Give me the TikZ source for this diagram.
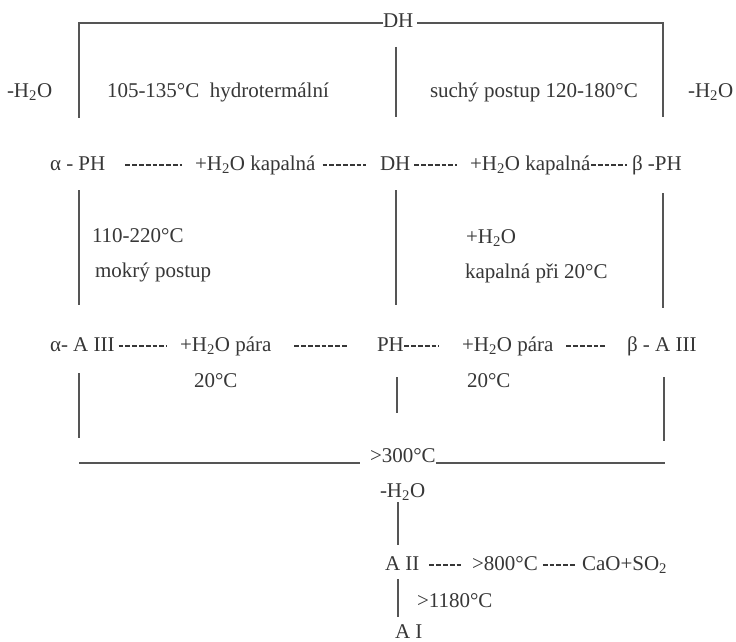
\documentclass[tikz,border=0pt]{standalone}
\usepackage{fontspec}
\setmainfont{Liberation Serif}
\definecolor{tcol}{RGB}{55,55,55}
\definecolor{lcol}{RGB}{85,85,85}
\begin{document}
\begin{tikzpicture}[x=1pt,y=-1pt,
  txt/.style={inner sep=0pt, outer sep=0pt, anchor=base west, text=tcol, font=\fontsize{21}{25}\selectfont},
  ln/.style={draw=lcol, line width=1.3pt},
  hy/.style={draw=tcol, line width=1.3pt, dash pattern=on 4.8pt off 2.0pt}]
\useasboundingbox (0,0) rectangle (736,642);
\fill[white] (0,0) rectangle (736,642);
% top row
\node[txt] (dhtop) at (383,28) {DH};
\node[txt] (wl) at (7,97) {-H\textsubscript{2}O};
\node[txt] (hyd) at (107,97) {105-135°C\ \ hydrotermální};
\node[txt] (such) at (430,97) {suchý postup 120-180°C};
\node[txt] (wr) at (688,97) {-H\textsubscript{2}O};
% row 2
\node[txt] (aph) at (50,170) {α - PH};
\node[txt] (kap1) at (195,170) {+H\textsubscript{2}O kapalná};
\node[txt] (dhm) at (380,170) {DH};
\node[txt] (kap2) at (470,170) {+H\textsubscript{2}O kapalná};
\node[txt] (bph) at (632,170) {β -PH};
\node[txt] (t110) at (92,242) {110-220°C};
\node[txt] (mok) at (95,277) {mokrý postup};
\node[txt] (h2o) at (466,243) {+H\textsubscript{2}O};
\node[txt] (kap20) at (465,278) {kapalná při 20°C};
% row 3
\node[txt] (aa3) at (50,351) {α- A III};
\node[txt] (par1) at (180,351) {+H\textsubscript{2}O pára};
\node[txt] (ph) at (377,351) {PH};
\node[txt] (par2) at (462,351) {+H\textsubscript{2}O pára};
\node[txt] (ba3) at (627,351) {β - A III};
\node[txt] (t20a) at (194,387) {20°C};
\node[txt] (t20b) at (467,387) {20°C};
% bottom
\node[txt] (t300) at (370,462) {>300°C};
\node[txt] (wb) at (380,497) {-H\textsubscript{2}O};
\node[txt] (a2) at (385,570) {A II};
\node[txt] (t800) at (472,570) {>800°C};
\node[txt] (cao) at (582,570) {CaO+SO\textsubscript{2}};
\node[txt] (t1180) at (417,607) {>1180°C};
\node[txt] (a1) at (395,638) {A I};
% coordinates
\coordinate (tl) at (79,118);
\coordinate (tr) at (663,117);
\coordinate (tc1) at (396,47);
\coordinate (tc2) at (396,117);
\coordinate (ml1) at (79,190);  \coordinate (ml2) at (79,305);
\coordinate (mc1) at (396,190); \coordinate (mc2) at (396,305);
\coordinate (mr1) at (663,193); \coordinate (mr2) at (663,308);
\coordinate (bl1) at (79,373);  \coordinate (bl2) at (79,438);
\coordinate (bc1) at (397,377); \coordinate (bc2) at (397,413);
\coordinate (br1) at (664,377); \coordinate (br2) at (664,441);
\coordinate (hl) at (79,463);
\coordinate (hr) at (665,463);
\coordinate (v1) at (398,502); \coordinate (v2) at (398,545);
\coordinate (v3) at (398,579); \coordinate (v4) at (398,617);
% solid lines
\draw[ln] ([yshift=5pt]dhtop.base west) -| (tl);
\draw[ln] ([xshift=4pt,yshift=5pt]dhtop.base east) -| (tr);
\draw[ln] (tc1) -- (tc2);
\draw[ln] (ml1) -- (ml2);
\draw[ln] (mc1) -- (mc2);
\draw[ln] (mr1) -- (mr2);
\draw[ln] (bl1) -- (bl2);
\draw[ln] (bc1) -- (bc2);
\draw[ln] (br1) -- (br2);
\draw[ln] (hl) -- ([xshift=-10pt,yshift=-1pt]t300.base west);
\draw[ln] ([yshift=-1pt]t300.base east) -- (hr);
\draw[ln] (v1) -- (v2);
\draw[ln] (v3) -- (v4);
% dashed connectors
\draw[hy] ([xshift=20pt,yshift=5pt]aph.base east) -- ([xshift=-13pt,yshift=5pt]kap1.base west);
\draw[hy] ([xshift=7pt,yshift=5pt]kap1.base east) -- ([xshift=-14pt,yshift=5pt]dhm.base west);
\draw[hy] ([xshift=4pt,yshift=5pt]dhm.base east) -- ([xshift=-13pt,yshift=5pt]kap2.base west);
\draw[hy] ([xshift=0.5pt,yshift=5pt]kap2.base east) -- ([xshift=-5pt,yshift=5pt]bph.base west);
\draw[hy] ([xshift=4pt,yshift=5pt]aa3.base east) -- ([xshift=-13pt,yshift=5pt]par1.base west);
\draw[hy] ([xshift=23pt,yshift=5pt]par1.base east) -- ([xshift=-29pt,yshift=5pt]ph.base west);
\draw[hy] ([xshift=0.5pt,yshift=5pt]ph.base east) -- ([xshift=-23pt,yshift=5pt]par2.base west);
\draw[hy] ([xshift=13pt,yshift=5pt]par2.base east) -- ([xshift=-20pt,yshift=5pt]ba3.base west);
\draw[hy] ([xshift=10pt,yshift=5pt]a2.base east) -- ([xshift=-11pt,yshift=5pt]t800.base west);
\draw[hy] ([xshift=5pt,yshift=5pt]t800.base east) -- ([xshift=-7pt,yshift=5pt]cao.base west);
\end{tikzpicture}
\end{document}
